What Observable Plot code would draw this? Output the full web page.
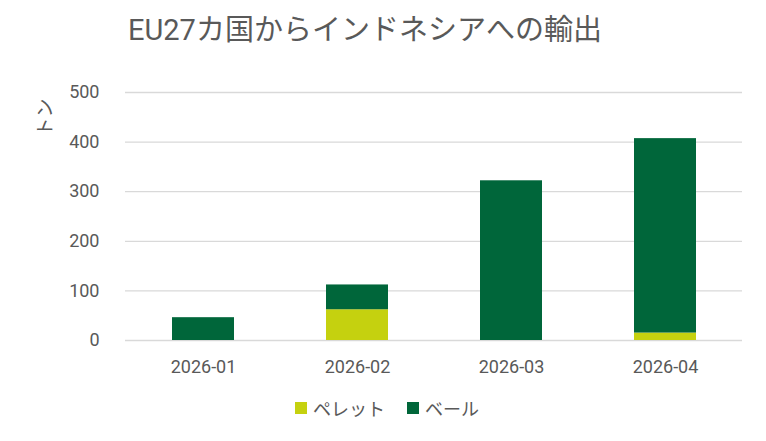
<!DOCTYPE html>
<html>
<head>
<meta charset="utf-8">
<script src="https://cdn.jsdelivr.net/npm/d3@7"></script>
<script src="https://cdn.jsdelivr.net/npm/@observablehq/plot@0.6"></script>
<style>
  html, body { margin: 0; padding: 0; background: #fff; }
  body { width: 766px; height: 441px; overflow: hidden; font-family: Roboto, "Noto Sans CJK JP", sans-serif; color: #595959; }
  #title { height: 60px; line-height: 60px; padding-left: 128px; font-size: 29px; color: #595959; white-space: nowrap; }
  #legend { height: 36px; display: flex; justify-content: center; align-items: center; font-size: 18px; color: #595959; font-family: "Noto Sans CJK JP", sans-serif; padding-left: 8px; }
  .item { display: flex; align-items: center; margin: 0 11px; }
  .sw { width: 12px; height: 12px; margin-right: 6px; }
</style>
</head>
<body>
<div id="title">EU27カ国からインドネシアへの輸出</div>
<div id="chart"></div>
<div id="legend"></div>
<script>
const months = ["2026-01", "2026-02", "2026-03", "2026-04"];
const seriesNames = ["ペレット", "ベール"];
const pellet = [0, 62, 0, 15];
const bale = [46, 50, 322, 392];
const colors = ["#C5D10F", "#00663A"];
const yTicks = [0, 100, 200, 300, 400, 500];
const yLabel = "トン";

const data = [];
months.forEach((m, i) => {
  data.push({month: m, type: seriesNames[0], value: pellet[i]});
  data.push({month: m, type: seriesNames[1], value: bale[i]});
});

const chart = Plot.plot({
  width: 766,
  height: 330,
  marginTop: 32,
  marginBottom: 50,
  marginLeft: 125,
  marginRight: 24,
  style: {fontFamily: 'Roboto, "Noto Sans CJK JP", sans-serif', color: "#595959", background: "#fff", overflow: "visible"},
  x: {domain: months, paddingInner: 0.6, paddingOuter: 0.3, label: null},
  y: {domain: [0, 500], label: null},
  color: {domain: seriesNames, range: colors},
  marks: [
    Plot.gridY(yTicks, {stroke: "#d9d9d9", strokeOpacity: 1, strokeWidth: 1.3}),
    Plot.barY(data, {x: "month", y: "value", fill: "type", order: seriesNames}),
    Plot.axisY(yTicks, {tickSize: 0, tickPadding: 26, fontSize: 18, fill: "#595959", label: null}),
    Plot.axisX({tickSize: 0, tickPadding: 20, fontSize: 18, fill: "#595959", label: null}),
    Plot.text([yLabel], {frameAnchor: "top-left", dx: -80, dy: 25, rotate: -90, textAnchor: "middle", lineAnchor: "middle", fontSize: 19, fill: "#595959", fontFamily: '"Noto Sans CJK JP", sans-serif'})
  ]
});
document.getElementById("chart").appendChild(chart);

const legend = document.getElementById("legend");
seriesNames.forEach((n, i) => {
  const it = document.createElement("div");
  it.className = "item";
  const sw = document.createElement("div");
  sw.className = "sw";
  sw.style.background = colors[i];
  const t = document.createElement("span");
  t.textContent = n;
  it.appendChild(sw);
  it.appendChild(t);
  legend.appendChild(it);
});
</script>
</body>
</html>
